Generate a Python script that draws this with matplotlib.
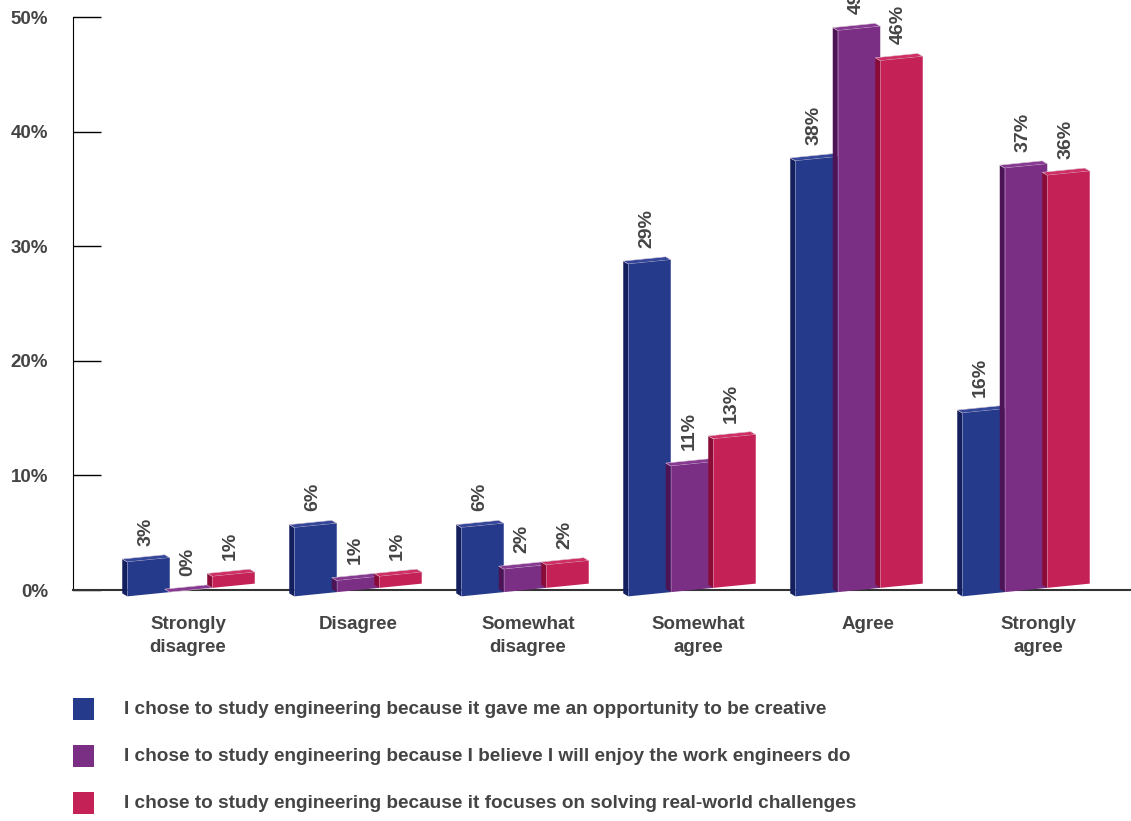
import matplotlib.pyplot as plt
from matplotlib.patches import Polygon, Rectangle
import numpy as np

plt.rcParams['font.family'] = ['Liberation Sans', 'DejaVu Sans']

categories = ['Strongly\ndisagree', 'Disagree', 'Somewhat\ndisagree',
              'Somewhat\nagree', 'Agree', 'Strongly\nagree']
creative = [3, 6, 6, 29, 38, 16]
enjoy = [0, 1, 2, 11, 49, 37]
solving = [1, 1, 2, 13, 46, 36]
series = [creative, enjoy, solving]
series_names = [
    'I chose to study engineering because it gave me an opportunity to be creative',
    'I chose to study engineering because I believe I will enjoy the work engineers do',
    'I chose to study engineering because it focuses on solving real-world challenges',
]
front_colors = ['#263a8b', '#7a2e84', '#c42157']
side_colors = ['#141f5e', '#4c1455', '#880c37']
top_colors = ['#34489b', '#873a91', '#cf2f63']
text_color = '#444444'

W, H = 1131, 821
fig = plt.figure(figsize=(W / 100, H / 100), dpi=100)
ax = fig.add_axes([73 / W, 231 / H, 1058 / W, 573 / H])

unit = 167.0
px_x = 1 / unit           # data units per pixel (x)
px_y = 50 / 573.0         # data units per pixel (y)
bar_w = 42.5 * px_x
skew = 0.1                # pixel rise per pixel to the right
depth_x, depth_y = 5 * px_x, 3 * px_y

x = np.arange(len(categories))
for s, vals in enumerate(series):
    z = 3 + s
    for i, v in enumerate(vals):
        left = x[i] + (s - 1.5) * bar_w
        right = left + bar_w
        def base(xx, gc=x[i]):
            return skew * (xx - gc) / px_x * px_y
        bl, br = base(left), base(right)
        tl, tr = bl + v, br + v
        # side face
        ax.add_patch(Polygon([(left, bl), (left, tl), (left - depth_x, tl + depth_y),
                              (left - depth_x, bl + depth_y)], closed=True,
                             facecolor=side_colors[s], edgecolor='none', zorder=z, clip_on=False))
        # top face
        ax.add_patch(Polygon([(left, tl), (right, tr), (right - depth_x, tr + depth_y),
                              (left - depth_x, tl + depth_y)], closed=True,
                             facecolor=top_colors[s], edgecolor='#d9c6d6', linewidth=0.4,
                             zorder=z, clip_on=False))
        # front face
        ax.add_patch(Polygon([(left, bl), (right, br), (right, tr), (left, tl)], closed=True,
                             facecolor=front_colors[s], edgecolor='none', zorder=z + 0.5,
                             clip_on=False))
        ax.plot([left, left], [bl, tl], color='white', alpha=0.25, lw=0.6, zorder=z + 0.6,
                clip_on=False)
        ax.annotate(f'{v}%', ((left + right) / 2, (tl + tr) / 2 + depth_y), xytext=(-2, 8),
                    textcoords='offset points', rotation=90, ha='center', va='bottom',
                    fontsize=14, fontweight='bold', color=text_color, zorder=10,
                    annotation_clip=False)

ax.set_xlim((73 - 191) / unit, (73 - 191 + 1058) / unit)
ax.set_ylim(0, 50)
ax.set_yticks(range(0, 51, 10))
ax.set_yticklabels([f'{t}%' for t in range(0, 51, 10)])
ax.tick_params(axis='y', direction='in', length=20, width=1, color='black',
               labelsize=13.5, labelcolor=text_color, pad=18)
for lab in ax.get_yticklabels():
    lab.set_fontweight('bold')
# category labels sit slightly right of the bar groups (3D projection)
ax.set_xticks(x + (np.arange(len(categories)) * 3 - 3) * px_x)
ax.set_xticklabels(categories, fontsize=13.5, fontweight='bold', color=text_color,
                   linespacing=1.45)
ax.tick_params(axis='x', length=0, pad=19)
for sp in ['top', 'right']:
    ax.spines[sp].set_visible(False)
ax.spines['left'].set_color('black')
ax.spines['bottom'].set_color('#333333')
ax.spines['bottom'].set_linewidth(1.5)
ax.spines['left'].set_zorder(2)
ax.spines['bottom'].set_zorder(2)

# legend
for s, name in enumerate(series_names):
    yc = 709 + s * 47
    fig.add_artist(Rectangle((73 / W, 1 - (yc + 11) / H), 21 / W, 22 / H,
                             transform=fig.transFigure, facecolor=front_colors[s],
                             edgecolor='none'))
    fig.text(124 / W, 1 - yc / H, name, ha='left', va='center', fontsize=13.7,
             fontweight='bold', color=text_color)

fig.savefig('out.png', dpi=100)
